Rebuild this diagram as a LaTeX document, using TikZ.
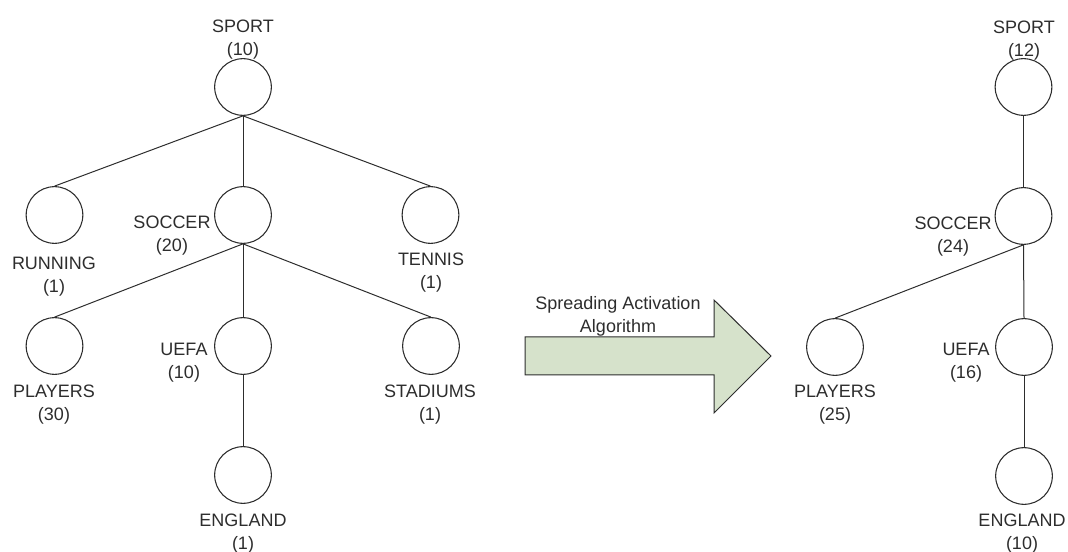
\documentclass[tikz,border=0pt]{standalone}
\usepackage{fontspec}
\setmainfont{Liberation Sans}
\usepackage{tikz}
\usetikzlibrary{calc}
\usetikzlibrary{shapes}
\definecolor{arrowgreen}{RGB}{214,226,203}
\definecolor{inkgray}{RGB}{45,45,45}
\tikzset{
  topic/.style={shape=circle,draw=inkgray,line width=0.8pt,minimum size=42.5pt,inner sep=0pt},
  lbl/.style={align=center,inner sep=0pt,yshift=-2.6pt,text=inkgray,font=\fontsize{13.5}{17.25}\selectfont},
  edge/.style={draw=inkgray,line width=0.75pt}
}
\newcommand{\topicnode}[3]{\node[topic] (#1) at ( #2 , #3 ) {};}
\newcommand{\lablnode}[4]{\node[lbl] (#1) at ( #2 , #3 ) {#4};}

\begin{document}
\begin{tikzpicture}[x=0.75pt,y=-0.75pt]
    \useasboundingbox (0,0) rectangle (1068,552);

    %nodes (left tree)
    \topicnode{sport}{243}{87}
    \topicnode{running}{54.5}{215}
    \topicnode{soccer}{243}{215}
    \topicnode{tennis}{430.5}{215}
    \topicnode{players}{54.5}{346}
    \topicnode{uefa}{243}{346}
    \topicnode{stadiums}{431}{346}
    \topicnode{england}{243}{475}

    %nodes (right tree)
    \topicnode{sportB}{1023.5}{87}
    \topicnode{soccerB}{1023.5}{216}
    \topicnode{playersB}{835}{347}
    \topicnode{uefaB}{1024}{347}
    \topicnode{englandB}{1024}{476}

    %edges
    \draw[edge] (sport.south) -- (running.north);
    \draw[edge] (sport.south) -- (soccer.north);
    \draw[edge] (sport.south) -- (tennis.north);
    \draw[edge] (soccer.south) -- (players.north);
    \draw[edge] (soccer.south) -- (uefa.north);
    \draw[edge] (soccer.south) -- (stadiums.north);
    \draw[edge] (uefa.south) -- (england.north);

    \draw[edge] (sportB.south) -- (soccerB.north);
    \draw[edge] (soccerB.south) -- (playersB.north);
    \draw[edge] (soccerB.south) -- (uefaB.north);
    \draw[edge] (uefaB.south) -- (englandB.north);

    %labels
    \lablnode{sportL}{243}{36.5}{SPORT\\(10)}
    \lablnode{runningL}{54}{273}{RUNNING\\(1)}
    \lablnode{soccerL}{172}{232}{SOCCER\\(20)}
    \lablnode{tennisL}{431}{269.5}{TENNIS\\(1)}
    \lablnode{playersL}{54}{401}{PLAYERS\\(30)}
    \lablnode{uefaL}{184}{359.5}{UEFA\\(10)}
    \lablnode{stadiumsL}{430}{401}{STADIUMS\\(1)}
    \lablnode{englandL}{243}{530}{ENGLAND\\(1)}

    \lablnode{sportBL}{1024}{37}{SPORT\\(12)}
    \lablnode{soccerBL}{953}{233.5}{SOCCER\\(24)}
    \lablnode{playersBL}{835}{401.5}{PLAYERS\\(25)}
    \lablnode{uefaBL}{966}{359.5}{UEFA\\(16)}
    \lablnode{englandBL}{1022}{530.5}{ENGLAND\\(10)}

    %big arrow
    \draw[draw=inkgray,line width=0.75pt,fill=arrowgreen]
      (525,337) -- (714,337) -- (714,300) -- (771,356) -- (714,413) -- (714,375) -- (525,375) -- cycle;
    \lablnode{algoL}{618}{312.5}{Spreading Activation\\Algorithm}
\end{tikzpicture}
\end{document}
